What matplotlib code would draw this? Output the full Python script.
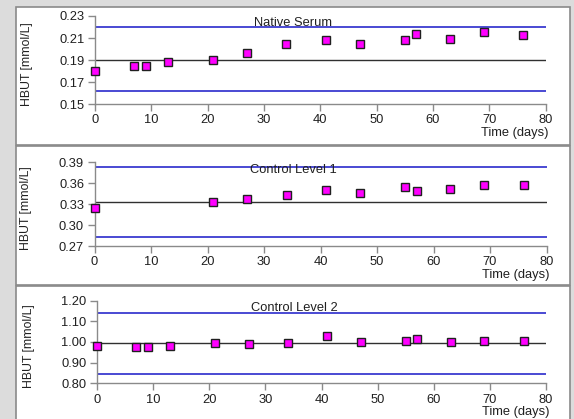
import numpy as np
import matplotlib
matplotlib.use('Agg')
import matplotlib.pyplot as plt
from matplotlib.patches import Rectangle

plt.rcParams['font.family'] = ['Liberation Sans', 'DejaVu Sans']

# sampling days
days_a = [0, 7, 9, 13, 21, 27, 34, 41, 47, 55, 57, 63, 69, 76]
days_b = [0, 21, 27, 34, 41, 47, 55, 57, 63, 69, 76]

# Native Serum
serum = [0.180, 0.1845, 0.1845, 0.188, 0.190, 0.196, 0.2043, 0.2085, 0.2048,
         0.2085, 0.2133, 0.2094, 0.2155, 0.2127]
serum_mean, serum_lo, serum_hi = 0.1903, 0.162, 0.2197

# Control Level 1
ctrl1 = [0.3249, 0.3331, 0.3379, 0.3427, 0.3498, 0.3459, 0.3541, 0.3484,
         0.3512, 0.3578, 0.3569]
ctrl1_mean, ctrl1_lo, ctrl1_hi = 0.3326, 0.2824, 0.3828

# Control Level 2
ctrl2 = [0.982, 0.977, 0.978, 0.980, 0.993, 0.991, 0.996, 1.031, 0.999,
         1.006, 1.015, 1.001, 1.003, 1.003]
ctrl2_mean, ctrl2_lo, ctrl2_hi = 0.994, 0.845, 1.142

panels = [
    ('Native Serum', days_a, serum, serum_mean, serum_lo, serum_hi,
     (0.15, 0.23), [0.15, 0.17, 0.19, 0.21, 0.23], '%.2f'),
    ('Control Level 1', days_b, ctrl1, ctrl1_mean, ctrl1_lo, ctrl1_hi,
     (0.27, 0.39), [0.27, 0.30, 0.33, 0.36, 0.39], '%.2f'),
    ('Control Level 2', days_a, ctrl2, ctrl2_mean, ctrl2_lo, ctrl2_hi,
     (0.80, 1.20), [0.80, 0.90, 1.00, 1.10, 1.20], '%.2f'),
]

W, H = 574, 419
fig = plt.figure(figsize=(W / 100, H / 100), dpi=100)
fig.patch.set_facecolor('#dcdcdc')

# white panel boxes (pixel coords: left, top, right, bottom)
boxes = [(16, 7.5, 570, 145.5), (16, 146, 570, 285), (16, 286, 570, 425)]
for l, t, r, b in boxes:
    fig.patches.append(Rectangle((l / W, 1 - b / H), (r - l) / W, (b - t) / H,
                                 transform=fig.transFigure, facecolor='white',
                                 edgecolor='#8a8a8a', linewidth=1.2, zorder=-5))

# axes positions in pixels: left, right, top, bottom
axpos = [(95, 545.5, 16, 104), (94.5, 546.5, 162.3, 246), (97, 546, 300.7, 383.3)]

for (title, x, y, m, lo, hi, ylim, yt, fmt), (l, r, t, b) in zip(panels, axpos):
    ax = fig.add_axes([l / W, 1 - b / H, (r - l) / W, (b - t) / H])
    ax.set_zorder(5)
    ax.set_facecolor('none')
    ax.axhline(hi, color='#3b3bd0', lw=1.3, zorder=1)
    ax.axhline(lo, color='#3b3bd0', lw=1.3, zorder=1)
    ax.axhline(m, color='#303030', lw=1.0, zorder=1)
    ax.plot(x, y, 's', color='#ff00ff', markeredgecolor='#202020',
            markersize=5.3, markeredgewidth=1.0, zorder=3, clip_on=False)
    ax.set_xlim(0, 80)
    ax.set_ylim(*ylim)
    ax.set_xticks(range(0, 81, 10))
    ax.set_yticks(yt)
    ax.set_yticklabels([fmt % v for v in yt])
    for s in ['top', 'right']:
        ax.spines[s].set_visible(False)
    for s in ['left', 'bottom']:
        ax.spines[s].set_color('#8a8a8a')
        ax.spines[s].set_linewidth(1.0)
    ax.tick_params(direction='out', length=5, width=1, color='#8a8a8a',
                   labelsize=9.3, labelcolor='#202020', pad=2.5)
    ax.set_ylabel('HBUT [mmol/L]', fontsize=8.8, color='#202020')
    ax.yaxis.set_label_coords(-0.138, 0.45)
    ax.text(0.44, 0.985, title, transform=ax.transAxes, ha='center', va='top',
            fontsize=9.3, color='#202020')
    ax.annotate('Time (days)', xy=(1.0, 0.0), xycoords='axes fraction',
                xytext=(3, -29), textcoords='offset pixels', ha='right',
                va='center', fontsize=9.3, color='#202020')

fig.savefig('out.png', dpi=100, facecolor=fig.get_facecolor())
